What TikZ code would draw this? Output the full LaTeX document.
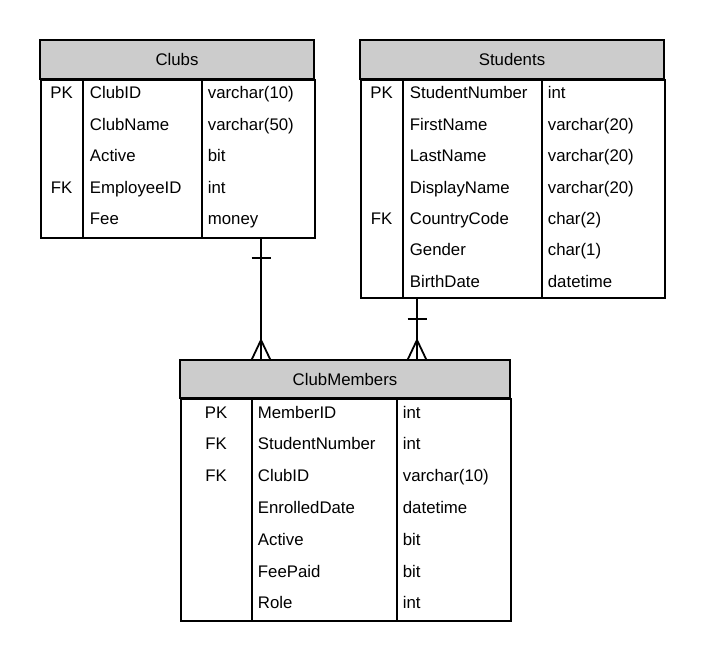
\documentclass[tikz,border=0pt]{standalone}
\usepackage{fontspec}
\setmainfont{Liberation Sans}

\begin{document}
\begin{tikzpicture}[x=1pt,y=-1pt,line width=1.8pt,
  every node/.style={font=\fontsize{16.8}{20}\selectfont},
  hdr/.style={draw,fill=black!20,inner sep=0},
  tbl/.style={draw,inner sep=0,anchor=north west},
  key/.style={anchor=base,inner sep=0},
  fld/.style={anchor=base west,inner sep=0}]
\useasboundingbox (0,0) rectangle (704,661);
% Clubs
\node[tbl,minimum width=274pt,minimum height=158pt] (clubsbody) at (40,79) {};
\node[hdr,minimum width=274pt,minimum height=39pt] (clubshead) at (177,59.5) {Clubs};
\draw (83,79)--(83,237);
\draw (202,79)--(202,237);
\node[key] (ck1) at (61.5,99) {PK};
\node[key] (ck4) at (61.5,193) {FK};
\node[fld] (cn1) at (89,99) {ClubID};
\node[fld] (cn2) at (89,130.3) {ClubName};
\node[fld] (cn3) at (89,161.7) {Active};
\node[fld] (cn4) at (89,193) {EmployeeID};
\node[fld] (cn5) at (89,224.3) {Fee};
\node[fld] (ct1) at (207,99) {varchar(10)};
\node[fld] (ct2) at (207,130.3) {varchar(50)};
\node[fld] (ct3) at (207,161.7) {bit};
\node[fld] (ct4) at (207,193) {int};
\node[fld] (ct5) at (207,224.3) {money};
% Students
\node[tbl,minimum width=304pt,minimum height=218pt] (studbody) at (360,79) {};
\node[hdr,minimum width=304pt,minimum height=39pt] (studhead) at (512,59.5) {Students};
\draw (403,79)--(403,297);
\draw (542,79)--(542,297);
\node[key] (sk1) at (381.5,99) {PK};
\node[key] (sk5) at (381.5,224.3) {FK};
\node[fld] (sn1) at (409,99) {StudentNumber};
\node[fld] (sn2) at (409,130.3) {FirstName};
\node[fld] (sn3) at (409,161.7) {LastName};
\node[fld] (sn4) at (409,193) {DisplayName};
\node[fld] (sn5) at (409,224.3) {CountryCode};
\node[fld] (sn6) at (409,255.7) {Gender};
\node[fld] (sn7) at (409,287) {BirthDate};
\node[fld] (st1) at (547,99) {int};
\node[fld] (st2) at (547,130.3) {varchar(20)};
\node[fld] (st3) at (547,161.7) {varchar(20)};
\node[fld] (st4) at (547,193) {varchar(20)};
\node[fld] (st5) at (547,224.3) {char(2)};
\node[fld] (st6) at (547,255.7) {char(1)};
\node[fld] (st7) at (547,287) {datetime};
% ClubMembers
\node[tbl,minimum width=330pt,minimum height=222pt] (membody) at (180,398) {};
\node[hdr,minimum width=330pt,minimum height=38pt] (memhead) at (345,379) {ClubMembers};
\draw (252,398)--(252,620);
\draw (397,398)--(397,620);
\node[key] (mk1) at (216,418) {PK};
\node[key] (mk2) at (216,449.8) {FK};
\node[key] (mk3) at (216,481.6) {FK};
\node[fld] (mn1) at (257,418) {MemberID};
\node[fld] (mn2) at (257,449.8) {StudentNumber};
\node[fld] (mn3) at (257,481.6) {ClubID};
\node[fld] (mn4) at (257,513.4) {EnrolledDate};
\node[fld] (mn5) at (257,545.2) {Active};
\node[fld] (mn6) at (257,577) {FeePaid};
\node[fld] (mn7) at (257,608.8) {Role};
\node[fld] (mt1) at (402,418) {int};
\node[fld] (mt2) at (402,449.8) {int};
\node[fld] (mt3) at (402,481.6) {varchar(10)};
\node[fld] (mt4) at (402,513.4) {datetime};
\node[fld] (mt5) at (402,545.2) {bit};
\node[fld] (mt6) at (402,577) {bit};
\node[fld] (mt7) at (402,608.8) {int};
% relations
\draw (clubsbody.south -| 261,0)--(memhead.north -| 261,0);
\draw (251.5,258)--(270.5,258);
\draw (251.5,360)--(261,340)--(270.5,360);
\draw (studbody.south -| 417,0)--(memhead.north -| 417,0);
\draw (407.5,319)--(426.5,319);
\draw (407.5,360)--(417,340)--(426.5,360);
\end{tikzpicture}
\end{document}
